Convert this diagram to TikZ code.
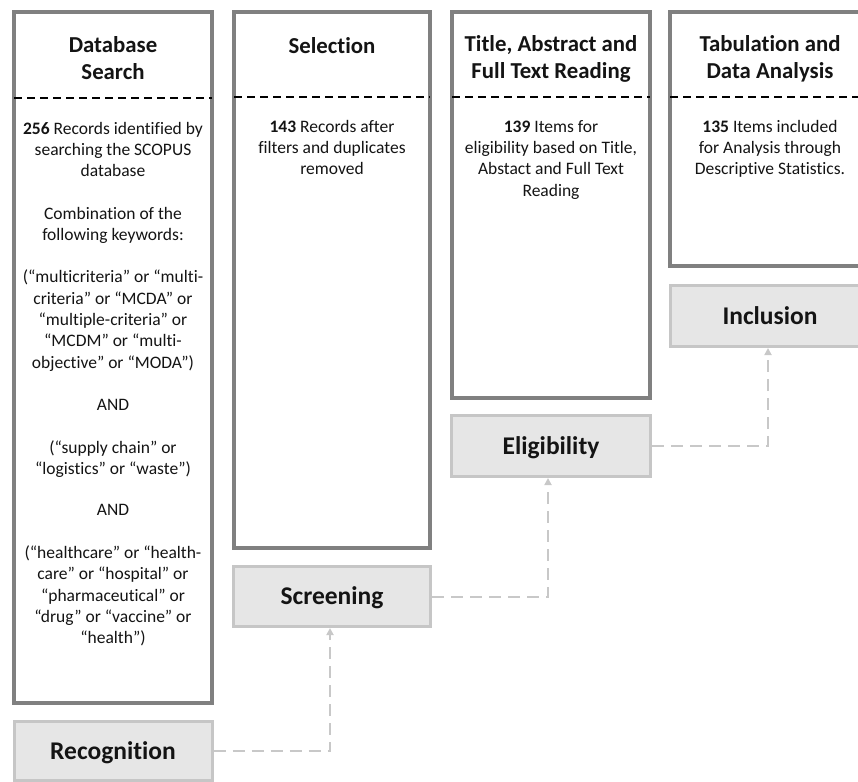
\documentclass[tikz,border=0pt]{standalone}
\usepackage{fontspec}
\setmainfont{Carlito}[Ligatures=NoCommon]
\usetikzlibrary{arrows.meta}
\definecolor{frame}{HTML}{808080}
\definecolor{stagefill}{HTML}{E6E6E6}
\definecolor{stageedge}{HTML}{C6C6C6}
\definecolor{flow}{HTML}{C8C8C8}
\definecolor{ink}{HTML}{141414}

\begin{document}
\begin{tikzpicture}[x=1pt,y=-1pt,
  column/.style={draw=frame, line width=3.5pt, fill=white, rectangle, inner sep=0pt},
  stage/.style={draw=stageedge, line width=3pt, fill=stagefill, rectangle, inner sep=0pt,
    font=\fontsize{25.5}{30}\selectfont\bfseries, text=ink, text height=1.75em, text depth=0.08em},
  heading/.style={align=center, inner sep=0pt, text=ink, font=\fontsize{22.8}{27.5}\selectfont\bfseries},
  bodytext/.style={align=center, inner sep=0pt, text=ink, font=\fontsize{17.5}{21.3}\selectfont},
  divider/.style={black, line width=1.5pt, dash pattern=on 8pt off 5pt},
  flowline/.style={draw=flow, line width=2pt, dash pattern=on 12pt off 7pt,
    -{Triangle[length=7pt,width=7pt]}}
]
\useasboundingbox (0,0) rectangle (858,781);
\clip (0,0) rectangle (858,781);

% four result columns
\node[column, minimum width=198, minimum height=691] (c1) at (113,357.5) {};
\node[column, minimum width=196, minimum height=536] (c2) at (332,280) {};
\node[column, minimum width=198, minimum height=386] (c3) at (551,205) {};
\node[column, minimum width=200, minimum height=254] (c4) at (770,139) {};

% headings
\node[heading, anchor=north] (h1) at (113,36) {Database\\Search};
\node[heading] (h2) at (332,46) {Selection};
\node[heading, anchor=north] (h3) at (551,35) {Title, Abstract and\\Full Text Reading};
\node[heading, anchor=north] (h4) at (770,35) {Tabulation and\\Data Analysis};

% dashed separators under the headings
\draw[divider] (14,98) -- (212,98);
\draw[divider] (234,97) -- (430,97);
\draw[divider] (452,97) -- (650,97);
\draw[divider] (670,97) -- (870,97);

% column contents
\node[bodytext, anchor=north] (b1) at (113,122) {%
  \textbf{256} Records identified by\\searching the SCOPUS\\database\\[21pt]
  Combination of the\\following keywords:\\[21pt]
  (“multicriteria” or “multi-\\criteria” or “MCDA” or\\“multiple-criteria” or\\“MCDM” or “multi-\\objective” or “MODA”)\\[21pt]
  AND\\[22pt]
  (“supply chain” or\\“logistics” or “waste”)\\[19pt]
  AND\\[22pt]
  (“healthcare” or “health-\\care” or “hospital” or\\“pharmaceutical” or\\“drug” or “vaccine” or\\“health”)};
\node[bodytext, anchor=north] (b2) at (332,120) {%
  \textbf{143} Records after\\filters and duplicates\\removed};
\node[bodytext, anchor=north] (b3) at (551,120) {%
  \textbf{139} Items for\\eligibility based on Title,\\Abstact and Full Text\\Reading};
\node[bodytext, anchor=north] (b4) at (770,120) {%
  \textbf{135} Items included\\for Analysis through\\Descriptive Statistics.};

% PRISMA stages
\node[stage, minimum width=198, minimum height=59] (rec) at (113,751) {Recognition};
\node[stage, minimum width=197, minimum height=60] (scr) at (332,596.5) {Screening};
\node[stage, minimum width=199, minimum height=61] (eli) at (551,446) {Eligibility};
\node[stage, minimum width=200, minimum height=61] (inc) at (770,316) {Inclusion};

% stage flow
\draw[flowline] (rec.east) -| ([xshift=-2pt]scr.south);
\draw[flowline] (scr.east) -| ([xshift=-3pt]eli.south);
\draw[flowline] (eli.east) -| ([xshift=-2pt]inc.south);
\end{tikzpicture}
\end{document}
